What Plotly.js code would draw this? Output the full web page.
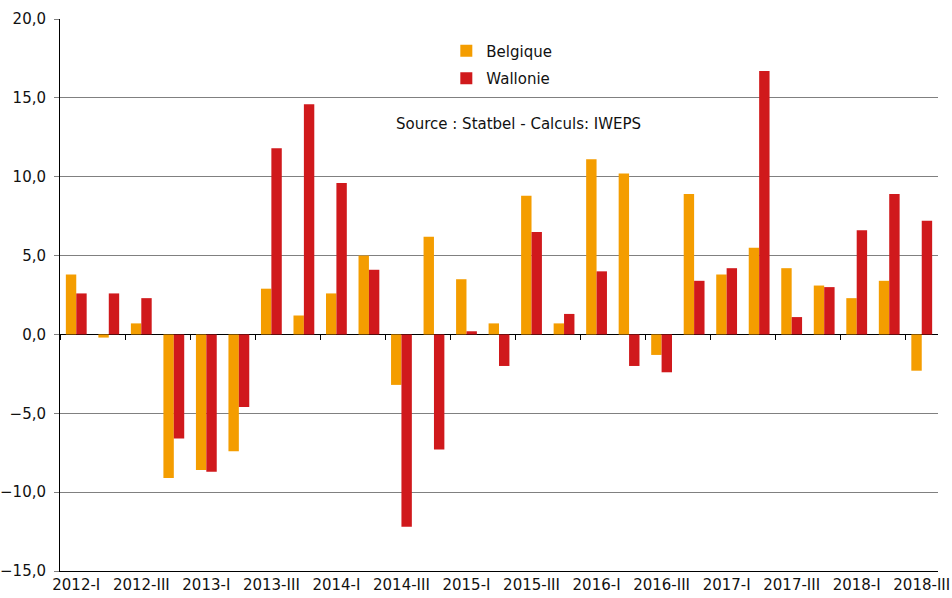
<!DOCTYPE html>
<html>
<head>
<meta charset="utf-8">
<script src="https://cdn.plot.ly/plotly-3.0.1.min.js"></script>
<style>html,body{margin:0;padding:0;background:#fff;}#chart{width:952px;height:598px;}</style>
</head>
<body>
<div id="chart"></div>
<script>
const quarters = [
  "2012-I","2012-II","2012-III","2012-IV",
  "2013-I","2013-II","2013-III","2013-IV",
  "2014-I","2014-II","2014-III","2014-IV",
  "2015-I","2015-II","2015-III","2015-IV",
  "2016-I","2016-II","2016-III","2016-IV",
  "2017-I","2017-II","2017-III","2017-IV",
  "2018-I","2018-II","2018-III"
];
const belgique = [3.8,-0.2,0.7,-9.1, -8.6,-7.4,2.9,1.2, 2.6,5.0,-3.2,6.2, 3.5,0.7,8.8,0.7, 11.1,10.2,-1.3,8.9, 3.8,5.5,4.2,3.1, 2.3,3.4,-2.3];
const wallonie = [2.6,2.6,2.3,-6.6, -8.7,-4.6,11.8,14.6, 9.6,4.1,-12.2,-7.3, 0.2,-2.0,6.5,1.3, 4.0,-2.0,-2.4,3.4, 4.2,16.7,1.1,3.0, 6.6,8.9,7.2];
const yTicks = [-15,-10,-5,0,5,10,15,20];
const sourceText = "Source : Statbel - Calculs: IWEPS";

const FONT = "DejaVu Sans, sans-serif";
const TXT = "#111";
const traces = [
  {type:"bar", name:"Belgique", x:quarters, y:belgique, marker:{color:"#F49D00"}, legendgroup:"b"},
  {type:"bar", name:"Wallonie", x:quarters, y:wallonie, marker:{color:"#D0191C"}, legendgroup:"w"},
  {type:"scatter", mode:"markers", x:quarters, y:quarters.map(()=>null), xaxis:"x2", showlegend:false, hoverinfo:"skip"}
];
const yMin = -15, yMax = 20;
const layout = {
  width:952, height:598,
  margin:{l:60, r:14, t:19, b:27},
  paper_bgcolor:"#fff", plot_bgcolor:"#fff",
  font:{family:FONT, size:15, color:TXT},
  separators:",.",
  barmode:"group", bargap:0.36, bargroupgap:0,
  showlegend:true,
  legend:{x:0.44, y:0.972, xanchor:"left", yanchor:"top", bgcolor:"rgba(0,0,0,0)",
          traceorder:"grouped", tracegroupgap:5, font:{family:FONT, size:15, color:TXT}},
  xaxis:{type:"category", categoryorder:"array", categoryarray:quarters, range:[-0.5, quarters.length-0.5],
         tickmode:"linear", tick0:0, dtick:2, ticks:"", showgrid:false, zeroline:false,
         showline:true, linecolor:"#000", linewidth:1, tickfont:{family:FONT, size:15, color:TXT}},
  xaxis2:{type:"category", categoryorder:"array", categoryarray:quarters, range:[-0.5, quarters.length-0.5],
          overlaying:"x", anchor:"free", position:(0-yMin)/(yMax-yMin),
          tickmode:"linear", tick0:0, dtick:2, tickson:"boundaries", ticks:"outside", ticklen:5,
          tickcolor:"#000", showticklabels:false, showgrid:false, zeroline:false, showline:false},
  yaxis:{range:[yMin, yMax], tickmode:"array", tickvals:yTicks, tickformat:".1f",
         showgrid:true, gridcolor:"#808080", gridwidth:1,
         zeroline:true, zerolinecolor:"#000", zerolinewidth:1,
         showline:true, linecolor:"#000", linewidth:1,
         ticks:"outside", ticklen:5, tickcolor:"#808080", ticklabelstandoff:5,
         tickfont:{family:FONT, size:15, color:TXT}},
  annotations:[{text:sourceText, xref:"paper", yref:"paper", x:0.522, y:0.8098,
                showarrow:false, xanchor:"center", yanchor:"middle", font:{family:FONT, size:15, color:TXT}}]
};
Plotly.newPlot("chart", traces, layout, {displayModeBar:false, staticPlot:true});
</script>
</body>
</html>
